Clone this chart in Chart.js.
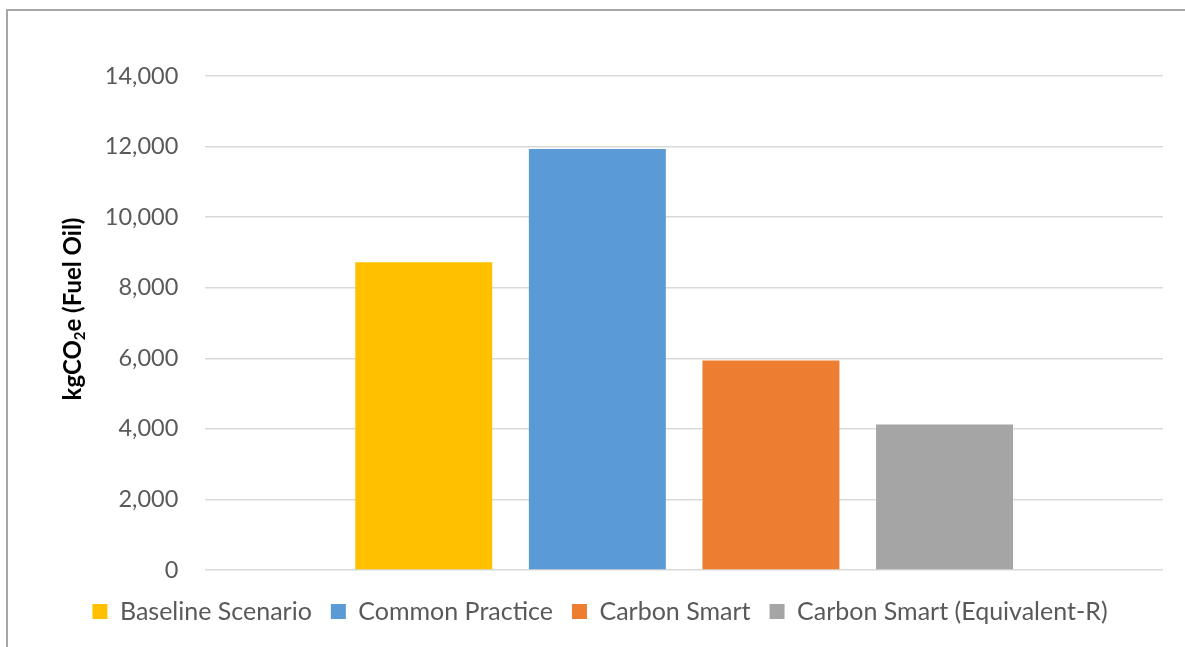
<!DOCTYPE html>
<html>
<head>
<meta charset="utf-8">
<script src="https://cdn.jsdelivr.net/npm/chart.js@4.4.1/dist/chart.umd.min.js"></script>
<style>
  html, body { margin: 0; padding: 0; background: #fff; }
  #wrap { position: relative; width: 1185px; height: 647px; overflow: hidden; }
  #frame { position: absolute; left: 6px; top: 9px; width: 1300px; height: 800px;
           border-left: 2px solid #a6a6a6; border-top: 2px solid #a6a6a6; pointer-events: none; }
  canvas { position: absolute; left: 0; top: 0; }
</style>
</head>
<body>
<div id="wrap">
  <canvas id="c" width="1185" height="647"></canvas>
  <div id="frame"></div>
</div>
<script>
const categories = [''];
const seriesNames = ['Baseline Scenario', 'Common Practice', 'Carbon Smart', 'Carbon Smart (Equivalent-R)'];
const seriesValues = [8720, 11930, 5940, 4120];
const seriesColors = ['#FFC000', '#5B9BD5', '#ED7D31', '#A5A5A5'];
const yTicks = [0, 2000, 4000, 6000, 8000, 10000, 12000, 14000];
// y-axis title: "kgCO" + subscript "2" + "e (Fuel Oil)"
const yTitleParts = ['kgCO', '2', 'e (Fuel Oil)'];

const FONT = 'Lato, "Noto Sans", sans-serif';

const datasets = seriesNames.map((name, i) => ({
  label: name,
  data: [seriesValues[i]],
  backgroundColor: seriesColors[i],
  borderWidth: 0,
  categoryPercentage: 0.725,
  barPercentage: 0.789
}));

const yTitlePlugin = {
  id: 'yTitleSub',
  afterDraw(chart) {
    const { ctx, chartArea } = chart;
    const big = 'bold 24px ' + FONT;
    const small = 'bold 15px ' + FONT;
    ctx.save();
    ctx.font = big;
    const w1 = ctx.measureText(yTitleParts[0]).width;
    const w3 = ctx.measureText(yTitleParts[2]).width;
    ctx.font = small;
    const w2 = ctx.measureText(yTitleParts[1]).width;
    const total = w1 + w2 + w3;
    ctx.translate(chartArea.left - 133, (chartArea.top + chartArea.bottom) / 2 - 14);
    ctx.rotate(-Math.PI / 2);
    ctx.fillStyle = '#000';
    ctx.textAlign = 'left';
    ctx.textBaseline = 'alphabetic';
    let x = -total / 2;
    const base = 9;
    ctx.font = big;
    ctx.fillText(yTitleParts[0], x, base);
    x += w1;
    ctx.font = small;
    ctx.fillText(yTitleParts[1], x, base + 4);
    x += w2;
    ctx.font = big;
    ctx.fillText(yTitleParts[2], x, base);
    ctx.restore();
  }
};

new Chart(document.getElementById('c'), {
  type: 'bar',
  data: { labels: categories, datasets },
  plugins: [yTitlePlugin],
  options: {
    responsive: false,
    animation: false,
    devicePixelRatio: 1,
    layout: { padding: { left: 37, right: 22, top: 76, bottom: 13 } },
    plugins: {
      tooltip: { enabled: false },
      legend: {
        position: 'bottom',
        labels: {
          boxWidth: 15, boxHeight: 15, padding: 19,
          color: '#595959',
          font: { family: FONT, size: 25 }
        }
      }
    },
    scales: {
      x: {
        ticks: { display: false },
        grid: { display: false },
        border: { display: false },
        afterFit: (axis) => { axis.height += 2; }
      },
      y: {
        min: yTicks[0],
        max: yTicks[yTicks.length - 1],
        afterBuildTicks: (axis) => { axis.ticks = yTicks.map(v => ({ value: v })); },
        afterFit: (axis) => { axis.width += 40.8; },
        ticks: {
          color: '#595959',
          padding: 27,
          font: { family: FONT, size: 23.5 },
          callback: (v) => Number(v).toLocaleString('en-US')
        },
        grid: { color: '#d9d9d9', lineWidth: 1.5, drawTicks: false },
        border: { display: false },
        title: { display: false }
      }
    }
  }
});
</script>
</body>
</html>
